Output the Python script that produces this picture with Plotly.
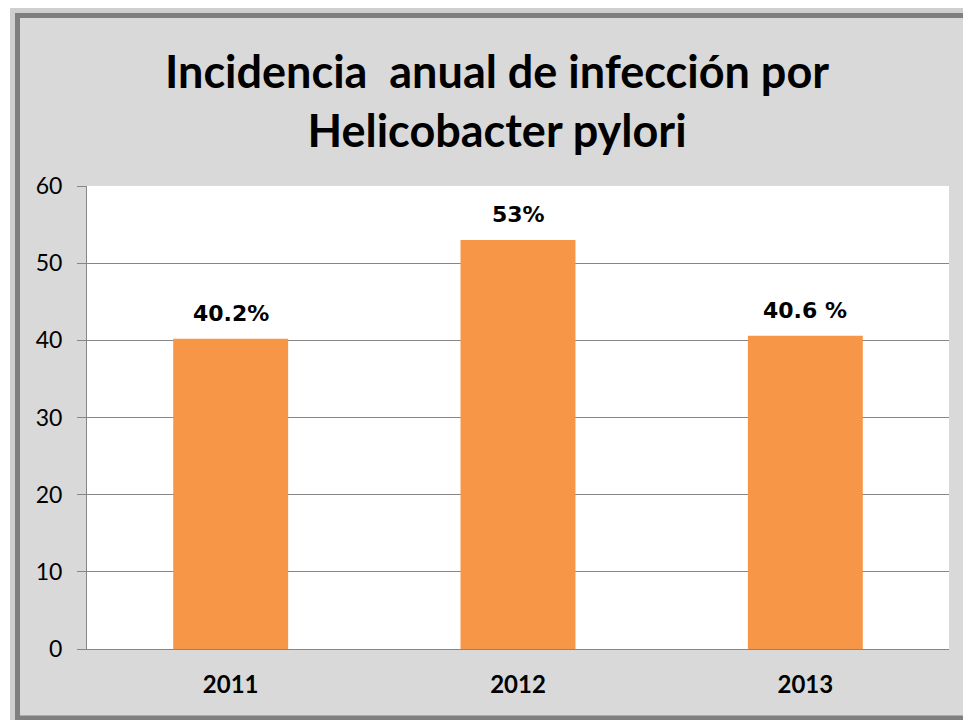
import plotly.graph_objects as go

years = ["2011", "2012", "2013"]
incidence = [40.2, 53, 40.6]
bar_labels = ["40.2%", "53%", "40.6 %"]
y_ticks = [0, 10, 20, 30, 40, 50, 60]

# the page body adds an 8px margin, so the figure is drawn 8px smaller and everything shifted
OFF = 8
W, H = 971 - OFF, 720 - OFF
L, R, T, B = 87 - OFF, 22, 186 - OFF, 71
pw, ph = W - L - R, H - T - B


def px_x(x):
    return (x - OFF - L) / pw


def px_y(y):
    return (H - B - (y - OFF)) / ph


fig = go.Figure()
fig.add_trace(go.Bar(x=years, y=incidence, marker_color="#F79646", marker_line_width=0))

# category index is used so the numeric-looking names are not read as positions
for i, (v, lab) in enumerate(zip(incidence, bar_labels)):
    fig.add_annotation(x=i, y=v, text=lab, showarrow=False, yanchor="bottom", yshift=11,
                       font=dict(family="DejaVu Sans", size=22, color="black", weight="bold"))

fig.add_annotation(xref="paper", yref="paper", x=px_x(497), y=px_y(101), xanchor="center", yanchor="middle",
                   text="Incidencia \u00a0anual de infección por<br>Helicobacter pylori", showarrow=False,
                   font=dict(family="Lato", size=45, color="black", weight="bold"))

# shadow, frame and white plot area
fig.add_shape(type="rect", xref="paper", yref="paper", layer="below",
              x0=px_x(15), x1=px_x(1000), y0=px_y(721), y1=px_y(12),
              line=dict(color="#cfcfcf", width=10), fillcolor="#d9d9d9")
fig.add_shape(type="rect", xref="paper", yref="paper", layer="below",
              x0=px_x(17.5), x1=px_x(1000), y0=px_y(718), y1=px_y(15.5),
              line=dict(color="#7f7f7f", width=5), fillcolor="#d9d9d9")
fig.add_shape(type="rect", xref="paper", yref="paper", layer="below",
              x0=0, x1=1, y0=0, y1=1, line_width=0, fillcolor="white")

fig.update_layout(
    width=W, height=H, margin=dict(l=L, r=R, t=T, b=B),
    paper_bgcolor="white", plot_bgcolor="white",
    bargap=0.6, showlegend=False,
)
fig.update_xaxes(type="category", range=[-0.5, len(years) - 0.5], showline=True, linecolor="#868686",
                 linewidth=1, ticks="",
                 tickfont=dict(family="Lato", size=24, color="black", weight="bold"),
                 ticklabelstandoff=14)
fig.update_yaxes(range=[0, 60], tickvals=y_ticks, showgrid=True, gridcolor="#868686", gridwidth=1,
                 showline=True, linecolor="#868686", linewidth=1, ticks="outside", ticklen=9,
                 tickcolor="#868686", zeroline=False,
                 tickfont=dict(family="Lato", size=23, color="black"), ticklabelstandoff=10)

fig.write_html("out.html")
